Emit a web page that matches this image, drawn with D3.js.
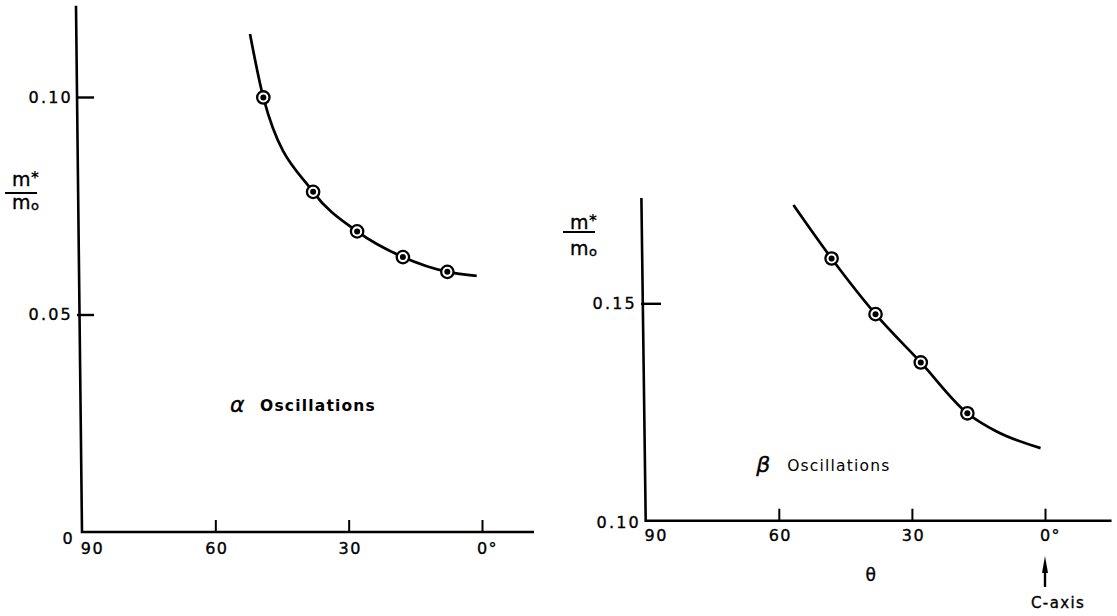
<!DOCTYPE html>
<html>
<head>
<meta charset="utf-8">
<script src="https://cdn.jsdelivr.net/npm/d3@7"></script>
<style>
  html, body { margin: 0; padding: 0; background: #fff; }
  svg { display: block; }
</style>
</head>
<body>
<svg id="chart" width="1117" height="616"></svg>
<script>
// ---------- data ----------
// angle from c-axis (deg) and m*/m0

// alpha oscillations (left panel): measured points
const alphaAngles = [49.2, 38.0, 28.1, 17.8, 7.8];
const alphaMass   = [0.0999, 0.0782, 0.0691, 0.0632, 0.0598];
// drawn smooth curve through them (ends)
const alphaCurveAngles = [52.2, 49.2, 38.0, 28.1, 17.8, 7.8, 1.2];
const alphaCurveMass   = [0.1145, 0.0999, 0.0782, 0.0691, 0.0632, 0.0598, 0.0589];

// beta oscillations (right panel)
const betaAngles = [48.1, 38.2, 28.0, 17.5];
const betaMass   = [0.1603, 0.1475, 0.1364, 0.1247];
const betaCurveAngles = [56.7, 48.1, 38.2, 28.0, 17.5, 10.9, 1.0];
const betaCurveMass   = [0.1726, 0.1603, 0.1475, 0.1364, 0.1247, 0.1205, 0.1167];

// ticks
const angleTicks = [90, 60, 30, 0];
const alphaTicks = [0.10, 0.05, 0];
const betaTicks  = [0.15, 0.10];

const FONT = "'DejaVu Sans', sans-serif";

const svg = d3.select('#chart');
svg.append('rect').attr('width', 1117).attr('height', 616).attr('fill', '#fff');

// ---------- scales ----------
const xL = d3.scaleLinear().domain([90, 0]).range([82, 482]);
const yL = d3.scaleLinear().domain([0, 0.10]).range([532, 97]);
const xR = d3.scaleLinear().domain([90, 0]).range([645.7, 1045]);
const yR = d3.scaleLinear().domain([0.10, 0.15]).range([520.7, 303.3]);

const zip = (a, b) => a.map((v, i) => [v, b[i]]);

// slightly heavier lettering, like the inked original
const ink = sel => sel.attr('fill', '#000').attr('stroke', '#000').attr('stroke-width', 0.35);

function drawPanel(o) {
  const { x, y } = o;
  const g = svg.append('g');
  const yMin = y.domain()[0];

  // axis lines (hand-drawn y axis leans a little)
  g.append('path')
    .attr('d', `M${x(90) + o.lean},${y(o.yTop)} L${x(90)},${y(yMin)} L${x(o.xEnd)},${y(yMin)}`)
    .attr('fill', 'none').attr('stroke', '#000').attr('stroke-width', 2.6);

  // x axis ticks + labels
  const gx = g.append('g')
    .attr('transform', `translate(0,${y(yMin)})`)
    .call(d3.axisBottom(x)
      .tickValues(angleTicks)
      .tickSizeInner(-12).tickSizeOuter(0)
      .tickPadding(o.xPad)
      .tickFormat(d => d === 0 ? '0°' : d));
  gx.select('.domain').remove();
  gx.attr('font-family', FONT).attr('font-size', 16);
  gx.selectAll('.tick line').attr('stroke-width', 2).filter(d => d === 90).remove();
  gx.selectAll('.tick text')
    .call(ink)
    .attr('letter-spacing', 1.5)
    .attr('dx', d => d === 90 ? 10 : d === 0 ? 5 : 1);

  // y axis ticks + labels
  const gy = g.append('g')
    .attr('transform', `translate(${x(90) + o.yShift},0)`)
    .call(d3.axisLeft(y)
      .tickValues(o.yTicks)
      .tickSizeInner(-o.yTickLen).tickSizeOuter(0)
      .tickPadding(4)
      .tickFormat(d => d === 0 ? '0' : d3.format('.2f')(d)));
  gy.select('.domain').remove();
  gy.attr('font-family', FONT).attr('font-size', 16);
  gy.selectAll('.tick line').attr('stroke-width', 2.4).filter(d => d === yMin).remove();
  gy.selectAll('.tick text')
    .call(ink)
    .attr('letter-spacing', 2.2)
    .attr('dy', d => d === yMin ? o.originDy : '0.32em')
    .attr('dx', d => d === yMin ? o.originDx : 0);

  // fitted curve
  const line = d3.line()
    .x(d => x(d[0])).y(d => y(d[1]))
    .curve(d3.curveMonotoneX);
  g.append('path')
    .datum(zip(o.curveAngles, o.curveMass))
    .attr('d', line)
    .attr('fill', 'none').attr('stroke', '#000').attr('stroke-width', 2.7);

  // circled-dot markers
  const pts = g.selectAll('g.pt')
    .data(zip(o.angles, o.mass))
    .join('g').attr('class', 'pt')
    .attr('transform', d => `translate(${x(d[0])},${y(d[1])})`);
  pts.append('circle').attr('r', 6.2)
    .attr('fill', '#fff').attr('stroke', '#000').attr('stroke-width', 2.3);
  pts.append('circle').attr('r', 3).attr('fill', '#000');

  // m*/m0 label
  const lab = g.append('g').attr('font-family', FONT);
  const L = o.massLabel;
  lab.append('text').attr('x', L.x).attr('y', L.top).attr('font-size', 19).call(ink).text('m');
  lab.append('text').attr('x', L.x + 19).attr('y', L.top - 3).attr('font-size', 15)
    .attr('font-weight', 'bold').attr('fill', '#000').text('*');
  lab.append('line')
    .attr('x1', L.x - 7).attr('x2', L.x + 25)
    .attr('y1', L.line).attr('y2', L.line)
    .attr('stroke', '#000').attr('stroke-width', 2);
  lab.append('text').attr('x', L.x).attr('y', L.bottom).attr('font-size', 19).call(ink).text('m');
  lab.append('text').attr('x', L.x + 19).attr('y', L.bottom + 1).attr('font-size', 13).call(ink).text('o');

  // panel title
  g.append('text')
    .attr('x', x(o.title.angle)).attr('y', y(o.title.mass))
    .attr('font-family', FONT).attr('font-size', 22).attr('font-style', 'italic')
    .call(ink)
    .text(o.title.greek);
  g.append('text')
    .attr('x', x(o.title.angle) + o.title.gap).attr('y', y(o.title.mass) - 1)
    .attr('font-family', FONT).attr('font-size', 15.5)
    .attr('font-weight', o.title.weight)
    .attr('letter-spacing', 1.2)
    .attr('fill', '#000')
    .text('Oscillations');

  return g;
}

drawPanel({
  x: xL, y: yL, lean: -6, yTop: 0.121, xEnd: -11.7,
  xPad: 11, yShift: -5, yTickLen: 17, yTicks: alphaTicks,
  originDy: '0.7em', originDx: 2,
  angles: alphaAngles, mass: alphaMass,
  curveAngles: alphaCurveAngles, curveMass: alphaCurveMass,
  massLabel: { x: 12, top: 186, line: 193, bottom: 209 },
  title: { greek: 'α', angle: 56.7, mass: 0.0276, gap: 30, weight: 'bold' }
});

const right = drawPanel({
  x: xR, y: yR, lean: -4.3, yTop: 0.1742, xEnd: -15,
  xPad: 9, yShift: -4.7, yTickLen: 20, yTicks: betaTicks,
  originDy: '0.45em', originDx: 4,
  angles: betaAngles, mass: betaMass,
  curveAngles: betaCurveAngles, curveMass: betaCurveMass,
  massLabel: { x: 570, top: 229, line: 232, bottom: 255 },
  title: { greek: 'β', angle: 65.1, mass: 0.1112, gap: 31, weight: 'normal' }
});

// theta label and c-axis arrow under the right panel
right.append('text')
  .attr('x', xR(39.3)).attr('y', 581)
  .attr('text-anchor', 'middle')
  .attr('font-family', FONT).attr('font-size', 17)
  .call(ink)
  .text('θ');

const cx = xR(0);
right.append('line')
  .attr('x1', cx).attr('x2', cx).attr('y1', 587).attr('y2', 566)
  .attr('stroke', '#000').attr('stroke-width', 2.4);
right.append('path')
  .attr('d', `M${cx - 3},${573} L${cx},${556} L${cx + 3},${573} Z`)
  .attr('fill', '#000');
right.append('text')
  .attr('x', cx - 14).attr('y', 608)
  .attr('font-family', FONT).attr('font-size', 15)
  .attr('letter-spacing', 1.4)
  .call(ink)
  .text('C-axis');
</script>
</body>
</html>
